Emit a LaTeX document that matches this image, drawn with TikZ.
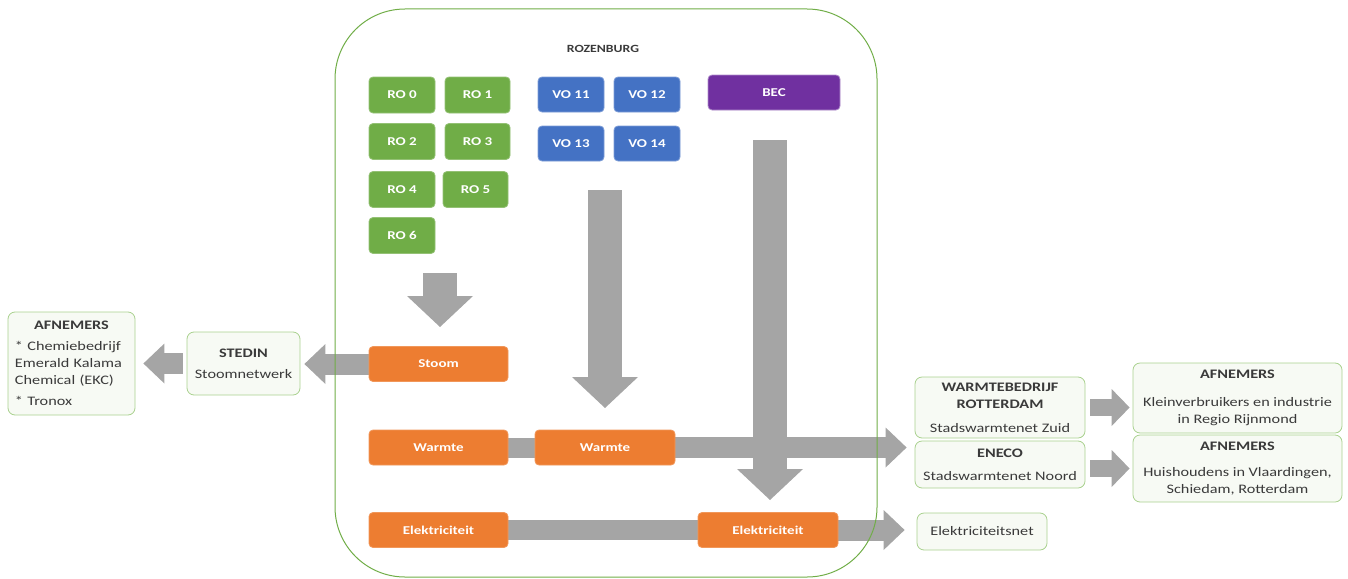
\documentclass[tikz,border=0pt]{standalone}
\usepackage{fontspec}
\setmainfont{Carlito}[FakeStretch=1.25]
\usetikzlibrary{arrows.meta}
\pgfdeclarelayer{background}
\pgfsetlayers{background,main}
\definecolor{rogreen}{HTML}{70AD47}
\definecolor{voblue}{HTML}{4472C4}
\definecolor{becpurple}{HTML}{7030A0}
\definecolor{florange}{HTML}{ED7D31}
\definecolor{arrowgray}{HTML}{A5A5A5}
\definecolor{extfill}{HTML}{F7FAF4}
\definecolor{extline}{HTML}{A9D18E}
\definecolor{txtgray}{HTML}{3A3A3A}
\begin{document}
\begin{tikzpicture}[x=1pt,y=-1pt,
  box/.style={rounded corners=4pt, inner sep=0pt, text=white, line width=0.8pt,
    font=\bfseries\fontsize{12}{14}\selectfont},
  robox/.style={box, fill=rogreen, draw=rogreen!75!white, minimum height=36pt},
  vobox/.style={box, fill=voblue, draw=voblue!70!white, minimum height=35pt, minimum width=66pt},
  becbox/.style={box, fill=becpurple, draw=becpurple!55!white},
  flowbox/.style={box, fill=florange, draw=florange!80!white, minimum width=139pt, minimum height=35pt},
  extbox/.style={rounded corners=7pt, fill=extfill, draw=extline, line width=0.8pt, text=txtgray,
    font=\fontsize{13}{17}\selectfont, align=center, inner sep=0pt},
  bigarrow/.style={draw=arrowgray, line width=34pt, -{Triangle[width=66pt,length=31pt,line width=0pt]}},
  medarrow/.style={draw=arrowgray, line width=21pt, -{Triangle[width=40pt,length=21pt,line width=0pt]}},
  smallarrow/.style={draw=arrowgray, line width=17pt, -{Triangle[width=37pt,length=18pt,line width=0pt]}},
  shaftline/.style={draw=arrowgray, line width=20pt},
  frame/.style={draw=rogreen, line width=1pt, rounded corners=70pt, inner sep=0pt}
]
\useasboundingbox (0,0) rectangle (1348,578);

% coordinates for free-standing arrows
\coordinate (roS) at (440,273);
\coordinate (roE) at (440,327);
\coordinate (voS) at (605,190);
\coordinate (voE) at (605,408);
\coordinate (becS) at (770,140);
\coordinate (becE) at (770,500);

% producer boxes
\node[robox, minimum width=66pt] (ro0) at (402,95) {RO 0};
\node[robox, minimum width=65pt] (ro1) at (477.5,95) {RO 1};
\node[robox, minimum width=66pt] (ro2) at (402,141.5) {RO 2};
\node[robox, minimum width=65pt] (ro3) at (477.5,141.5) {RO 3};
\node[robox, minimum width=66pt] (ro4) at (402,189.5) {RO 4};
\node[robox, minimum width=65pt] (ro5) at (475.5,189.5) {RO 5};
\node[robox, minimum width=66pt] (ro6) at (402,235.5) {RO 6};

\node[vobox] (vo11) at (571,94.5) {VO 11};
\node[vobox] (vo12) at (647,94.5) {VO 12};
\node[vobox] (vo13) at (571,143.5) {VO 13};
\node[vobox] (vo14) at (647,143.5) {VO 14};

\node[becbox, minimum width=132pt, minimum height=35pt] (bec) at (774,92.5) {BEC};

% flow boxes
\node[flowbox] (stoom) at (438.5,364) {Stoom};
\node[flowbox] (wl) at (438.5,447.5) {Warmte};
\node[flowbox, minimum width=140pt] (wm) at (605,447.5) {Warmte};
\node[flowbox] (el) at (438.5,530) {Elektriciteit};
\node[flowbox, minimum width=140pt] (er) at (768,530) {Elektriciteit};

% external boxes
\node[extbox, minimum width=113pt, minimum height=63pt] (stedin) at (243.5,363.5)
  {\textbf{STEDIN}\\[4pt]Stoomnetwerk};
\node[extbox, minimum width=127pt, minimum height=103pt, text width=113pt, align=left] (afnl) at (71.5,363.5)
  {\makebox[113pt][c]{\bfseries AFNEMERS}\\[4pt]* Chemiebedrijf\\Emerald Kalama\\Chemical (EKC)\\[4pt]* Tronox};
\node[extbox, minimum width=170pt, minimum height=61pt] (wbed) at (1000,407.5)
  {\textbf{WARMTEBEDRIJF}\\\textbf{ROTTERDAM}\\[7pt]Stadswarmtenet Zuid};
\node[extbox, minimum width=170pt, minimum height=47pt] (eneco) at (1000,464.5)
  {\textbf{ENECO}\\[6pt]Stadswarmtenet Noord};
\node[extbox, minimum width=209pt, minimum height=70pt] (afn1) at (1237.5,398)
  {\textbf{AFNEMERS}\\[11pt]Kleinverbruikers en industrie\\in Regio Rijnmond};
\node[extbox, minimum width=209pt, minimum height=67pt] (afn2) at (1237.5,468.5)
  {\textbf{AFNEMERS}\\[9pt]Huishoudens in Vlaardingen,\\Schiedam, Rotterdam};
\node[extbox, minimum width=130pt, minimum height=37pt] (elnet) at (982,531.5) {Elektriciteitsnet};

% arrows behind the boxes
\begin{pgfonlayer}{background}
\draw[bigarrow] (roS) -- (roE);
\draw[bigarrow] (voS) -- (voE);
\draw[shaftline] (wl.center) -- (wm.center);
\draw[medarrow, shorten >=8pt] (wm.center) -- (wm.center -| wbed.west);
\draw[shaftline] (el.center) -- (er.center);
\draw[medarrow, shorten >=12pt] (er.center) -- (er.center -| elnet.west);
\draw[bigarrow] (becS) -- (becE);
\draw[medarrow, shorten >=4pt] (stoom.center) -- (stoom.center -| stedin.east);
\draw[medarrow, shorten <=4pt, shorten >=8pt] (stedin.west) -- (stedin.west -| afnl.east);
\draw[smallarrow, shorten <=5pt, shorten >=3pt] (wbed.east) -- (wbed.east -| afn1.west);
\draw[smallarrow, shorten <=5pt, shorten >=3pt] (afn2.west -| eneco.east) -- (afn2.west);
\end{pgfonlayer}

% frame and title
\node[frame, minimum width=542pt, minimum height=568pt] (rozenburg) at (606,293) {};
\node[text=txtgray, font=\bfseries\fontsize{11}{13}\selectfont] (title) at (603,49) {ROZENBURG};
\end{tikzpicture}
\end{document}
